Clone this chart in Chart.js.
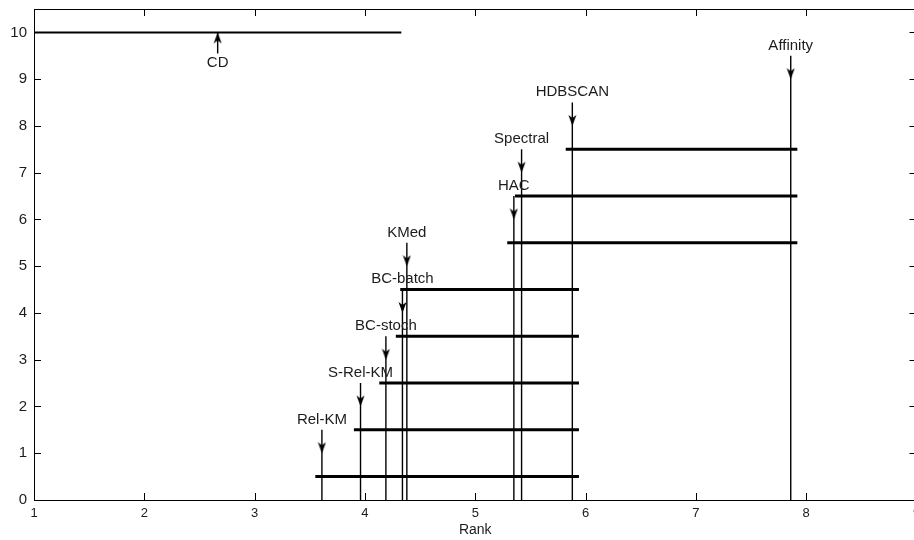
<!DOCTYPE html>
<html>
<head>
<meta charset="utf-8">
<script src="https://cdn.jsdelivr.net/npm/chart.js@4/dist/chart.umd.min.js"></script>
<style>
  html, body { margin: 0; padding: 0; background: #fff; overflow: hidden; }
  #wrap { width: 924px; height: 540px; }
</style>
</head>
<body>
<div id="wrap"><canvas id="cd" width="924" height="540"></canvas></div>
<script>
// Average ranks
const methods  = ['Rel-KM', 'S-Rel-KM', 'BC-stoch', 'BC-batch', 'KMed', 'HAC', 'Spectral', 'HDBSCAN', 'Affinity'];
const avgRanks = [3.61, 3.96, 4.19, 4.34, 4.38, 5.35, 5.42, 5.88, 7.86];
const arrowLevels = [1, 2, 3, 4, 5, 6, 7, 8, 9];

// Groups of methods not significantly different (index of first / last method)
const cliqueFrom   = [0, 1, 2, 3, 4, 5, 6, 7];
const cliqueTo     = [7, 7, 7, 7, 7, 8, 8, 8];
const cliqueLevels = [0.5, 1.5, 2.5, 3.5, 4.5, 5.5, 6.5, 7.5];
const cliqueOverhang = 0.06;

// Critical difference
const cdStart = 1;
const cdLength = 3.33;
const cdLevel = 10;

const xTicks = [1, 2, 3, 4, 5, 6, 7, 8, 9];
const yTicks = [0, 1, 2, 3, 4, 5, 6, 7, 8, 9, 10];

const INK = '#000';
const TEXT = '#1c1c1c';
const FONT = '"Liberation Sans", Arial, Helvetica, sans-serif';

// arrowhead sprite, tip sits at the canvas centre
function arrowHead(up) {
    const c = document.createElement('canvas');
    c.width = 9;
    c.height = 24;
    const g = c.getContext('2d');
    g.fillStyle = INK;
    g.beginPath();
    if (up) {
        g.moveTo(4.5, 12); g.lineTo(0.5, 23); g.lineTo(4.5, 20); g.lineTo(8.5, 23);
    } else {
        g.moveTo(4.5, 12); g.lineTo(0.5, 1); g.lineTo(4.5, 4); g.lineTo(8.5, 1);
    }
    g.closePath();
    g.fill();
    return c;
}
const headDown = arrowHead(false);
const headUp = arrowHead(true);

const datasets = [];

// vertical rank lines with arrows
methods.forEach((m, i) => {
    datasets.push({
        label: m,
        data: [{x: avgRanks[i], y: 0}, {x: avgRanks[i], y: arrowLevels[i] + 0.5}],
        borderColor: INK, borderWidth: 1.4, pointRadius: 0,
    });
    datasets.push({
        label: m + ' arrow',
        data: [{x: avgRanks[i], y: arrowLevels[i]}],
        showLine: false, pointStyle: headDown, pointRadius: 5,
    });
});

// clique bars
cliqueLevels.forEach((lvl, k) => {
    datasets.push({
        label: 'clique ' + k,
        data: [
            {x: avgRanks[cliqueFrom[k]] - cliqueOverhang, y: lvl},
            {x: avgRanks[cliqueTo[k]] + cliqueOverhang, y: lvl},
        ],
        borderColor: INK, borderWidth: 3, pointRadius: 0,
    });
});

// CD bar + arrow
const cdMid = cdStart + cdLength / 2;
datasets.push({
    label: 'CD',
    data: [{x: cdStart, y: cdLevel}, {x: cdStart + cdLength, y: cdLevel}],
    borderColor: INK, borderWidth: 2, pointRadius: 0,
});
datasets.push({
    label: 'CD stem',
    data: [{x: cdMid, y: cdLevel - 0.45}, {x: cdMid, y: cdLevel}],
    borderColor: INK, borderWidth: 1.4, pointRadius: 0,
});
datasets.push({
    label: 'CD arrow',
    data: [{x: cdMid, y: cdLevel}],
    showLine: false, pointStyle: headUp, pointRadius: 5,
});

// method names + CD text
const labelPlugin = {
    id: 'cdLabels',
    afterDatasetsDraw(chart) {
        const {ctx, scales: {x, y}} = chart;
        ctx.save();
        ctx.fillStyle = TEXT;
        ctx.font = '15px ' + FONT;
        ctx.textAlign = 'center';
        ctx.textBaseline = 'middle';
        methods.forEach((m, i) => {
            ctx.fillText(m, x.getPixelForValue(avgRanks[i]), y.getPixelForValue(arrowLevels[i] + 0.72));
        });
        ctx.fillText('CD', x.getPixelForValue(cdMid), y.getPixelForValue(cdLevel - 0.66));
        ctx.restore();
    },
};

// box with inward ticks on all four sides
const framePlugin = {
    id: 'frame',
    afterDatasetsDraw(chart) {
        const {ctx, chartArea: a, scales: {x, y}} = chart;
        const len = 7;
        ctx.save();
        ctx.strokeStyle = INK;
        ctx.lineWidth = 1;
        ctx.strokeRect(Math.round(a.left) + 0.5, Math.round(a.top) + 0.5,
            Math.round(a.right - a.left), Math.round(a.bottom - a.top));
        ctx.beginPath();
        xTicks.forEach(v => {
            const px = Math.round(x.getPixelForValue(v)) + 0.5;
            ctx.moveTo(px, a.bottom); ctx.lineTo(px, a.bottom - len);
            ctx.moveTo(px, a.top); ctx.lineTo(px, a.top + len);
        });
        yTicks.forEach(v => {
            const py = Math.round(y.getPixelForValue(v)) + 0.5;
            ctx.moveTo(a.left, py); ctx.lineTo(a.left + len, py);
            ctx.moveTo(a.right, py); ctx.lineTo(a.right - len, py);
        });
        ctx.stroke();
        ctx.restore();
    },
};

new Chart(document.getElementById('cd'), {
    type: 'line',
    data: {datasets},
    options: {
        responsive: false,
        animation: false,
        layout: {padding: {left: 0, right: 7.5, top: 9, bottom: 0}},
        plugins: {legend: {display: false}, tooltip: {enabled: false}},
        scales: {
            x: {
                type: 'linear', min: 1, max: 9,
                afterBuildTicks: s => { s.ticks = xTicks.map(v => ({value: v})); },
                afterFit: s => { s.height = 40; s.paddingLeft = 0; s.paddingRight = 0; },
                grid: {display: false, drawTicks: false}, border: {display: false},
                ticks: {color: TEXT, font: {family: FONT, size: 13}, padding: 6, maxRotation: 0, autoSkip: false},
                title: {display: true, text: 'Rank', color: TEXT, font: {family: FONT, size: 14}, padding: {top: 0, bottom: 1}},
            },
            y: {
                type: 'linear', min: 0, max: 10.5,
                afterBuildTicks: s => { s.ticks = yTicks.map(v => ({value: v})); },
                afterFit: s => { s.width = 34; s.paddingTop = 0; s.paddingBottom = 0; },
                grid: {display: false, drawTicks: false}, border: {display: false},
                ticks: {color: TEXT, font: {family: FONT, size: 15}, padding: 7},
            },
        },
    },
    plugins: [labelPlugin, framePlugin],
});
</script>
</body>
</html>
